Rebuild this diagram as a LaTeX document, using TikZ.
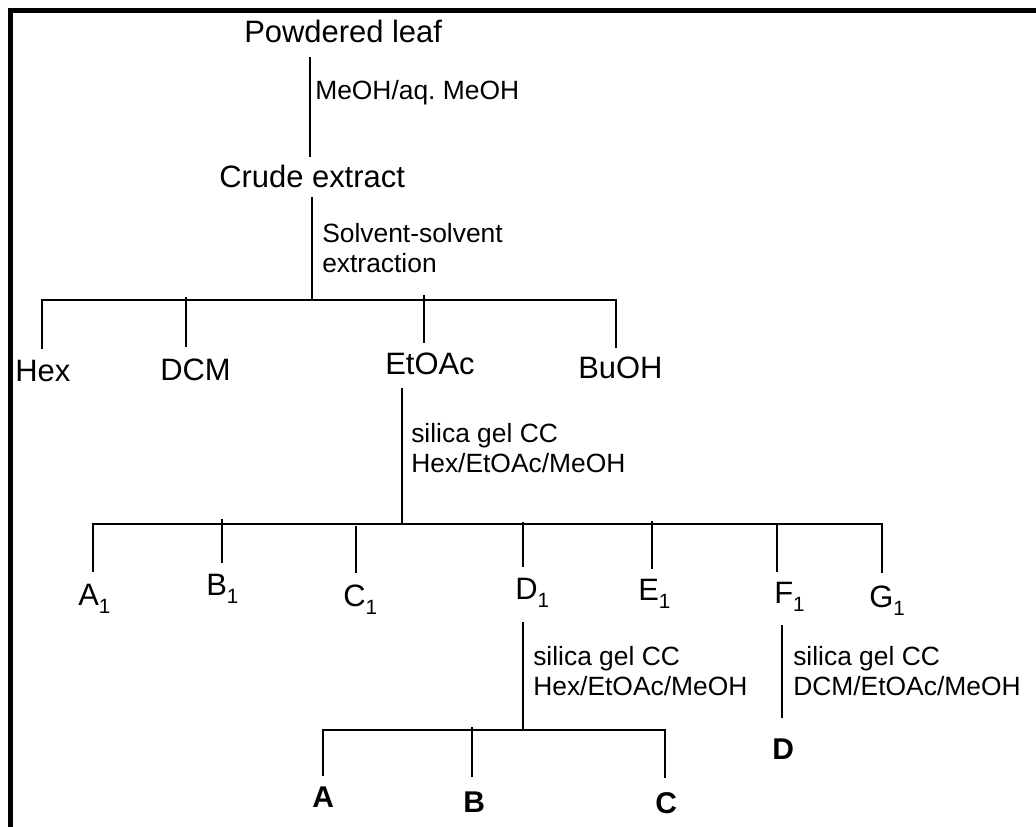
\documentclass[tikz,border=0pt]{standalone}
\usepackage{fontspec}
\setmainfont{Liberation Sans}
\frenchspacing
\newcommand{\mysubone}{\raisebox{-6pt}{\fontsize{15.5}{18}\selectfont 1}}
\begin{document}
\begin{tikzpicture}[x=0.75pt,y=-0.75pt,
  main/.style={inner sep=0pt,anchor=base west,font=\fontsize{23.2}{28}\selectfont},
  lbl/.style={inner sep=0pt,anchor=base west,font=\fontsize{19.8}{24}\selectfont},
  bld/.style={inner sep=0pt,anchor=base west,font=\fontsize{22.5}{27}\selectfont\bfseries},
  conn/.style={line width=1.4pt},
  frame/.style={line width=3.75pt}]
\useasboundingbox (0,0) rectangle (1036,827);
% frame (left and top)
\coordinate (fBL) at (10.5,830);
\coordinate (fTL) at (10.5,10.5);
\coordinate (fTR) at (1040,10.5);
\draw[frame] (fBL) -- (fTL) -- (fTR);

% texts
\node[main] (pl) at (244,43) {Powdered leaf};
\node[lbl] (l1) at (315,100) {MeOH/aq.\ MeOH};
\node[main] (ce) at (219,188) {Crude extract};
\node[lbl] (l2a) at (322,243) {Solvent-solvent};
\node[lbl] (l2b) at (322,273) {extraction};
\node[main] (hex) at (15,382) {Hex};
\node[main] (dcm) at (160,381) {DCM};
\node[main] (etoac) at (385,375) {EtOAc};
\node[main] (buoh) at (578,379) {BuOH};
\node[lbl] (l3a) at (411,442) {silica gel CC};
\node[lbl] (l3b) at (411,472) {Hex/EtOAc/MeOH};
\node[main] (a1) at (78,605) {A\mysubone};
\node[main] (b1) at (206,595) {B\mysubone};
\node[main] (c1) at (343,606) {C\mysubone};
\node[main] (d1) at (515,599) {D\mysubone};
\node[main] (e1) at (638,600) {E\mysubone};
\node[main] (f1) at (774,603) {F\mysubone};
\node[main] (g1) at (869,607) {G\mysubone};
\node[lbl] (l4a) at (533,665) {silica gel CC};
\node[lbl] (l4b) at (533,695) {Hex/EtOAc/MeOH};
\node[lbl] (l5a) at (793,665) {silica gel CC};
\node[lbl] (l5b) at (793,695) {DCM/EtOAc/MeOH};
\node[bld] (pa) at (312,807) {A};
\node[bld] (pb) at (463,812) {B};
\node[bld] (pc) at (655,813) {C};
\node[bld] (pd) at (772,759) {D};

% connector coordinates
\coordinate (s1) at (310,57);
\coordinate (e1c) at (310,157);
\coordinate (s2) at (312,197);
\coordinate (bus1) at (312,300);
\coordinate (hexT) at (42,349);
\coordinate (dcmT) at (186,347);
\coordinate (dcmB) at (186,297);
\coordinate (etT) at (424,343);
\coordinate (etB) at (424,295);
\coordinate (buT) at (616,348);
\coordinate (s3) at (402,388);
\coordinate (bus2) at (402,524);
\coordinate (a1T) at (93,572);
\coordinate (b1T) at (222,563);
\coordinate (b1B) at (222,519);
\coordinate (c1T) at (356,573);
\coordinate (c1B) at (356,526);
\coordinate (d1T) at (523,567);
\coordinate (d1B) at (523,522);
\coordinate (e1T) at (652,569);
\coordinate (e1B) at (652,521);
\coordinate (f1T) at (777,572);
\coordinate (f1B) at (777,524);
\coordinate (g1T) at (882,573);
\coordinate (s4) at (523,622);
\coordinate (bus3) at (523,730);
\coordinate (s5) at (782,625);
\coordinate (e5) at (782,718);
\coordinate (paT) at (323,776);
\coordinate (pbT) at (472,777);
\coordinate (pbB) at (472,727);
\coordinate (pcT) at (665,778);

% connectors
\draw[conn] (s1) -- (e1c);
\draw[conn] (s2) -- (bus1);
\draw[conn] (hexT) |- (bus1) -| (buT);
\draw[conn] (dcmB) -- (dcmT);
\draw[conn] (etB) -- (etT);
\draw[conn] (s3) -- (bus2);
\draw[conn] (a1T) |- (bus2) -| (g1T);
\draw[conn] (b1B) -- (b1T);
\draw[conn] (c1B) -- (c1T);
\draw[conn] (d1B) -- (d1T);
\draw[conn] (e1B) -- (e1T);
\draw[conn] (f1B) -- (f1T);
\draw[conn] (s4) -- (bus3);
\draw[conn] (paT) |- (bus3) -| (pcT);
\draw[conn] (pbB) -- (pbT);
\draw[conn] (s5) -- (e5);
\end{tikzpicture}
\end{document}
